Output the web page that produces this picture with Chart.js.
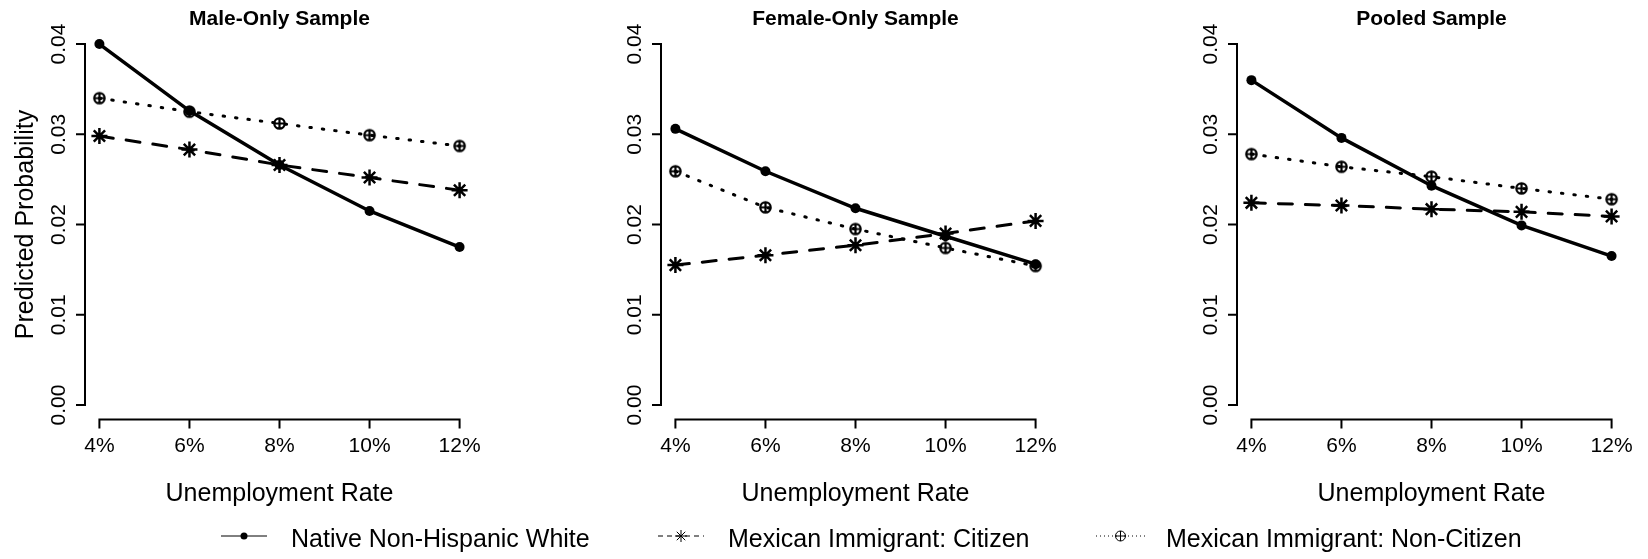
<!DOCTYPE html>
<html>
<head>
<meta charset="utf-8">
<script src="https://cdn.jsdelivr.net/npm/chart.js@4.4.0/dist/chart.umd.min.js"></script>
<style>
  html, body { margin: 0; padding: 0; background: #fff; width: 1648px; height: 559px; overflow: hidden; }
  canvas.panel { position: absolute; top: 0; }
  #legendMarks { position: absolute; left: 0; top: 510px; }
  .legend-text { position: absolute; top: 526px; font: 25px "Liberation Sans", Arial, sans-serif; line-height: 25px; color: #000; white-space: nowrap; }
</style>
</head>
<body>
<canvas id="male" class="panel" width="576" height="520" style="left:0px"></canvas>
<canvas id="female" class="panel" width="576" height="520" style="left:576px"></canvas>
<canvas id="pooled" class="panel" width="496" height="520" style="left:1152px"></canvas>
<canvas id="legendMarks" width="1648" height="49"></canvas>
<div class="legend-text" style="left:291px">Native Non-Hispanic White</div>
<div class="legend-text" style="left:728px">Mexican Immigrant: Citizen</div>
<div class="legend-text" style="left:1166px">Mexican Immigrant: Non-Citizen</div>

<script>
// Data
const rates = [4, 6, 8, 10, 12];
const rateLabels = ['4%', '6%', '8%', '10%', '12%'];
const yTicks = [0, 0.01, 0.02, 0.03, 0.04];
const yTickLabels = ['0.00', '0.01', '0.02', '0.03', '0.04'];
const seriesNames = ['Native Non-Hispanic White', 'Mexican Immigrant: Citizen', 'Mexican Immigrant: Non-Citizen'];

const maleNative = [0.0400, 0.0326, 0.0266, 0.0215, 0.0175];
const maleCitizen = [0.0298, 0.0283, 0.0266, 0.0252, 0.0238];
const maleNonCitizen = [0.0340, 0.0325, 0.0312, 0.0299, 0.0287];

const femaleNative = [0.0306, 0.0259, 0.0218, 0.0187, 0.0156];
const femaleCitizen = [0.0155, 0.0166, 0.0177, 0.0190, 0.0204];
const femaleNonCitizen = [0.0259, 0.0219, 0.0195, 0.0174, 0.0154];

const pooledNative = [0.0360, 0.0296, 0.0243, 0.0199, 0.0165];
const pooledCitizen = [0.0224, 0.0221, 0.0217, 0.0214, 0.0209];
const pooledNonCitizen = [0.0278, 0.0264, 0.0253, 0.0240, 0.0228];

// Styling
const FONT = '"Liberation Sans", Arial, sans-serif';
const plotLeft = 85, plotRight = 474, plotTop = 29.6, plotBottom = 419.4;

// circle with a plus inside (R pch 10)
function circlePlus(r, lw) {
  const size = Math.ceil(2 * r + lw + 2);
  const c = document.createElement('canvas');
  c.width = size; c.height = size;
  const g = c.getContext('2d');
  const m = size / 2;
  g.strokeStyle = '#000';
  g.lineWidth = lw;
  g.beginPath();
  g.arc(m, m, r, 0, Math.PI * 2);
  g.moveTo(m - r, m); g.lineTo(m + r, m);
  g.moveTo(m, m - r); g.lineTo(m, m + r);
  g.stroke();
  return c;
}
const circPlusMark = circlePlus(5.2, 2.2);

function toPoints(values) {
  return values.map((v, i) => ({ x: rates[i], y: v }));
}

// axes drawn R-style: lines span only the tick range
const rAxes = {
  id: 'rAxes',
  afterDraw(chart, args, opts) {
    const ctx = chart.ctx;
    const xs = chart.scales.x, ys = chart.scales.y, area = chart.chartArea;
    ctx.save();
    ctx.strokeStyle = '#000';
    ctx.fillStyle = '#000';
    ctx.lineWidth = 2;
    ctx.lineCap = 'square';

    // y axis
    ctx.beginPath();
    ctx.moveTo(area.left, ys.getPixelForValue(yTicks[0]));
    ctx.lineTo(area.left, ys.getPixelForValue(yTicks[yTicks.length - 1]));
    yTicks.forEach(v => {
      const p = ys.getPixelForValue(v);
      ctx.moveTo(area.left - 8, p);
      ctx.lineTo(area.left, p);
    });
    // x axis
    ctx.moveTo(xs.getPixelForValue(rates[0]), area.bottom);
    ctx.lineTo(xs.getPixelForValue(rates[rates.length - 1]), area.bottom);
    rates.forEach(v => {
      const p = xs.getPixelForValue(v);
      ctx.moveTo(p, area.bottom);
      ctx.lineTo(p, area.bottom + 8);
    });
    ctx.stroke();

    // tick labels
    ctx.font = '21px ' + FONT;
    ctx.textAlign = 'center';
    ctx.textBaseline = 'alphabetic';
    rates.forEach((v, i) => {
      ctx.fillText(rateLabels[i], xs.getPixelForValue(v), area.bottom + 32.5);
    });
    yTicks.forEach((v, i) => {
      ctx.save();
      ctx.translate(area.left - 20, ys.getPixelForValue(v));
      ctx.rotate(-Math.PI / 2);
      ctx.fillText(yTickLabels[i], 0, 0);
      ctx.restore();
    });

    // axis titles
    const cx = (area.left + area.right) / 2;
    const cy = (area.top + area.bottom) / 2;
    ctx.font = '25px ' + FONT;
    ctx.fillText('Unemployment Rate', cx, area.bottom + 81.5);
    if (opts.yTitle) {
      ctx.save();
      ctx.translate(area.left - 52, cy);
      ctx.rotate(-Math.PI / 2);
      ctx.fillText(opts.yTitle, 0, 0);
      ctx.restore();
    }

    // panel title
    ctx.font = 'bold 21px ' + FONT;
    ctx.fillText(opts.title, cx, area.top - 5);
    ctx.restore();
  }
};

function makePanel(canvasId, title, yTitle, nativeVals, citizenVals, nonCitizenVals) {
  const canvas = document.getElementById(canvasId);
  return new Chart(canvas.getContext('2d'), {
    type: 'line',
    data: {
      datasets: [
        {
          label: seriesNames[0], data: toPoints(nativeVals),
          borderColor: '#000', borderWidth: 3.5,
          pointStyle: 'circle', pointRadius: 5, pointBackgroundColor: '#000', pointBorderWidth: 0,
          clip: false
        },
        {
          label: seriesNames[1], data: toPoints(citizenVals),
          borderColor: '#000', borderWidth: 3, borderDash: [14, 13], borderCapStyle: 'round',
          pointStyle: 'star', pointRadius: 8, pointBorderColor: '#000', pointBorderWidth: 2.5,
          clip: false
        },
        {
          label: seriesNames[2], data: toPoints(nonCitizenVals),
          borderColor: '#000', borderWidth: 3, borderDash: [1.5, 11], borderCapStyle: 'round',
          pointStyle: circPlusMark, pointRadius: 5,
          clip: false
        }
      ]
    },
    options: {
      responsive: false,
      animation: false,
      events: [],
      layout: {
        padding: {
          left: plotLeft,
          right: canvas.width - plotRight,
          top: plotTop,
          bottom: canvas.height - plotBottom
        }
      },
      plugins: {
        legend: { display: false },
        tooltip: { enabled: false },
        rAxes: { title: title, yTitle: yTitle }
      },
      scales: {
        x: { type: 'linear', display: false, min: 3.68, max: 12.32 },
        y: { type: 'linear', display: false, min: -0.0016, max: 0.0416 }
      }
    },
    plugins: [rAxes]
  });
}

makePanel('male', 'Male-Only Sample', 'Predicted Probability', maleNative, maleCitizen, maleNonCitizen);
makePanel('female', 'Female-Only Sample', null, femaleNative, femaleCitizen, femaleNonCitizen);
makePanel('pooled', 'Pooled Sample', null, pooledNative, pooledCitizen, pooledNonCitizen);

// Legend symbols
function drawLegend() {
  const c = document.getElementById('legendMarks');
  const g = c.getContext('2d');
  const y = 26;
  const items = [
    { x1: 221, x2: 267, dash: [], mark: 'dot' },
    { x1: 658, x2: 704, dash: [5, 4], mark: 'star' },
    { x1: 1096, x2: 1145, dash: [1, 3], mark: 'circplus' }
  ];
  g.strokeStyle = '#000';
  g.fillStyle = '#000';
  items.forEach(it => {
    g.save();
    g.lineWidth = 1;
    g.setLineDash(it.dash);
    g.beginPath();
    g.moveTo(it.x1, y);
    g.lineTo(it.x2, y);
    g.stroke();
    g.restore();
    const mx = (it.x1 + it.x2) / 2;
    g.lineWidth = 1;
    g.beginPath();
    if (it.mark === 'dot') {
      g.arc(mx, y, 3.5, 0, Math.PI * 2);
      g.fill();
    } else if (it.mark === 'star') {
      const r = 6, d = r * Math.SQRT1_2;
      g.moveTo(mx - r, y); g.lineTo(mx + r, y);
      g.moveTo(mx, y - r); g.lineTo(mx, y + r);
      g.moveTo(mx - d, y - d); g.lineTo(mx + d, y + d);
      g.moveTo(mx - d, y + d); g.lineTo(mx + d, y - d);
      g.stroke();
    } else {
      const r = 5;
      g.arc(mx, y, r, 0, Math.PI * 2);
      g.moveTo(mx - r, y); g.lineTo(mx + r, y);
      g.moveTo(mx, y - r); g.lineTo(mx, y + r);
      g.stroke();
    }
  });
}
drawLegend();
</script>
</body>
</html>
